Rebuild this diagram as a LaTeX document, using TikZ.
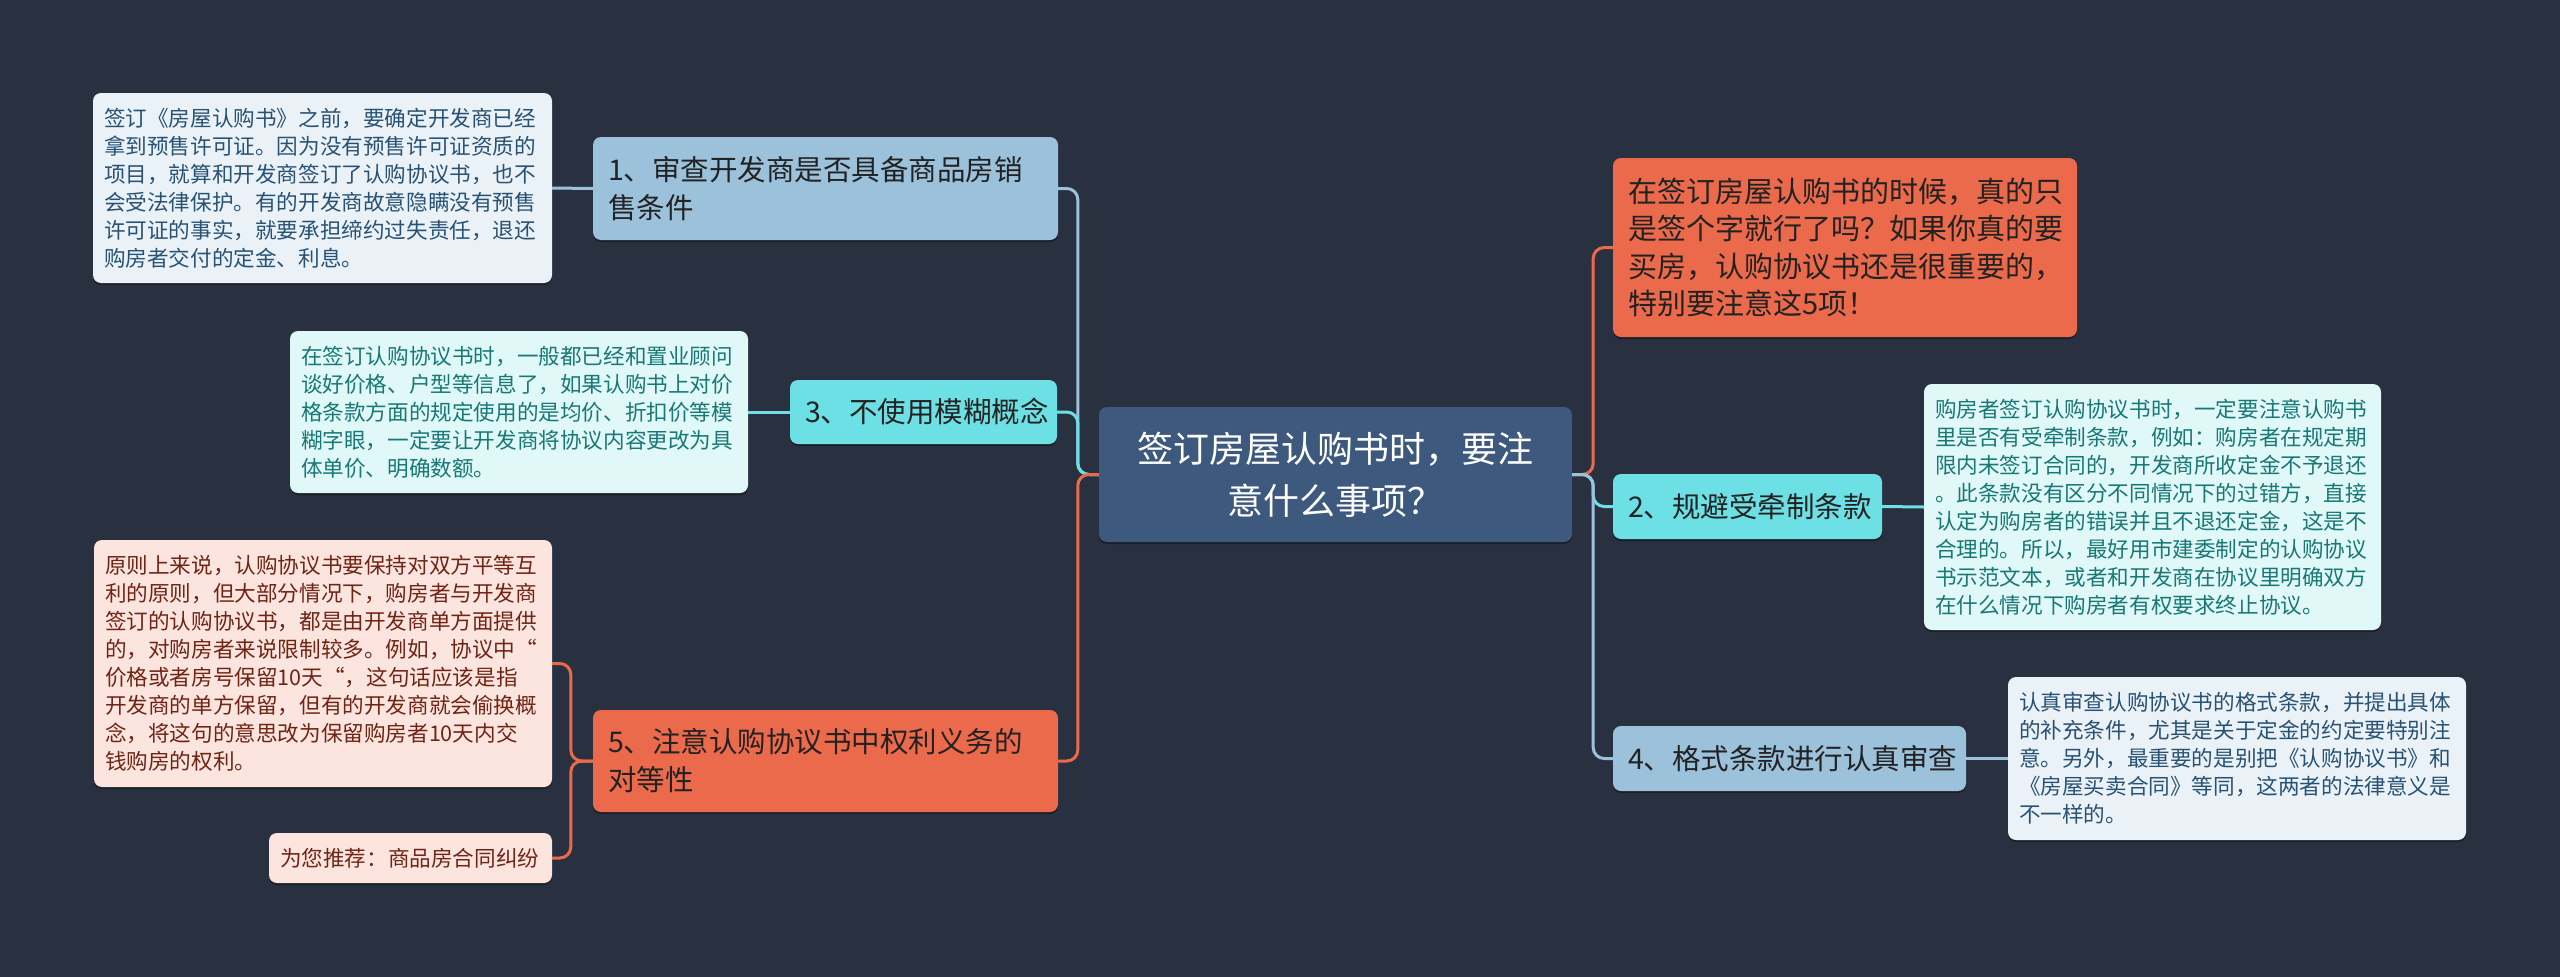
\documentclass[tikz,border=0pt]{standalone}
\usepackage{fontspec}
\setmainfont{Noto Sans CJK SC}
\usetikzlibrary{shadows}
\definecolor{bg}{RGB}{41,49,65}
\definecolor{cfill}{RGB}{61,89,126}
\definecolor{lblue}{RGB}{155,193,219}
\definecolor{cyanc}{RGB}{108,224,228}
\definecolor{orng}{RGB}{236,106,76}
\definecolor{dblue}{RGB}{234,242,248}
\definecolor{dbluet}{RGB}{40,82,116}
\definecolor{dcyan}{RGB}{224,248,248}
\definecolor{dcyant}{RGB}{24,120,118}
\definecolor{dpink}{RGB}{253,229,223}
\definecolor{dpinkt}{RGB}{112,36,20}
\definecolor{ntext}{RGB}{34,34,34}
\tikzset{
  boxbase/.style={rounded corners=8pt, inner ysep=0pt, align=left,
    drop shadow={shadow xshift=0pt, shadow yshift=-2pt, opacity=0.35, fill=black}},
  topic/.style={boxbase, inner xsep=15pt, text=ntext, font=\fontsize{28.5}{38}\selectfont},
  desc/.style={boxbase, inner xsep=11pt, font=\fontsize{21.6}{28}\selectfont},
  conn/.style={line width=3pt, rounded corners=11pt},
}
\begin{document}
\begin{tikzpicture}[x=1pt,y=-1pt]
\fill[bg] (0,0) rectangle (2560,977);
\useasboundingbox (0,0) rectangle (2560,977);

% central node
\node[boxbase, fill=cfill, text=white, align=center, text width=443pt, minimum height=135pt,
  inner xsep=15pt, font=\fontsize{36}{52}\selectfont] (c) at (1335.5,474.5)
  {签订房屋认购书时，要注\\意什么事项？};

% left topics
\node[topic, fill=lblue, text width=435pt, minimum height=103pt] (n1) at (825.5,188.5)
  {1、审查开发商是否具备商品房销\\售条件};
\node[topic, fill=cyanc, text width=237pt, minimum height=64pt] (n3) at (923.5,412)
  {3、不使用模糊概念};
\node[topic, fill=orng, text width=435pt, minimum height=102pt] (n5) at (825.5,761)
  {5、注意认购协议书中权利义务的\\对等性};

% right topics
\node[topic, fill=orng, text width=434pt, minimum height=179pt, font=\fontsize{29}{37.5}\selectfont] (t0) at (1845,247.5)
  {在签订房屋认购书的时候，真的只\\是签个字就行了吗？如果你真的要\\买房，认购协议书还是很重要的，\\特别要注意这5项！};
\node[topic, fill=cyanc, text width=239pt, minimum height=65pt] (n2) at (1747.5,506.5)
  {2、规避受牵制条款};
\node[topic, fill=lblue, text width=323pt, minimum height=65pt] (n4) at (1789.5,758.5)
  {4、格式条款进行认真审查};

% details
\node[desc, fill=dblue, text=dbluet, text width=437pt, minimum height=190pt] (d1) at (322.5,188)
  {签订《房屋认购书》之前，要确定开发商已经\\拿到预售许可证。因为没有预售许可证资质的\\项目，就算和开发商签订了认购协议书，也不\\会受法律保护。有的开发商故意隐瞒没有预售\\许可证的事实，就要承担缔约过失责任，退还\\购房者交付的定金、利息。};
\node[desc, fill=dcyan, text=dcyant, text width=436pt, minimum height=162pt] (d3) at (519,412)
  {在签订认购协议书时，一般都已经和置业顾问\\谈好价格、户型等信息了，如果认购书上对价\\格条款方面的规定使用的是均价、折扣价等模\\糊字眼，一定要让开发商将协议内容更改为具\\体单价、明确数额。};
\node[desc, fill=dpink, text=dpinkt, text width=436pt, minimum height=247pt] (d5) at (323,663.5)
  {原则上来说，认购协议书要保持对双方平等互\\利的原则，但大部分情况下，购房者与开发商\\签订的认购协议书，都是由开发商单方面提供\\的，对购房者来说限制较多。例如，协议中“\\价格或者房号保留10天“，这句话应该是指\\开发商的单方保留，但有的开发商就会偷换概\\念，将这句的意思改为保留购房者10天内交\\钱购房的权利。};
\node[desc, fill=dpink, text=dpinkt, text width=261pt, minimum height=50pt] (rec) at (410.5,858)
  {为您推荐：商品房合同纠纷};
\node[desc, fill=dcyan, text=dcyant, text width=435pt, minimum height=246pt] (d2) at (2152.5,507)
  {购房者签订认购协议书时，一定要注意认购书\\里是否有受牵制条款，例如：购房者在规定期\\限内未签订合同的，开发商所收定金不予退还\\。此条款没有区分不同情况下的过错方，直接\\认定为购房者的错误并且不退还定金，这是不\\合理的。所以，最好用市建委制定的认购协议\\书示范文本，或者和开发商在协议里明确双方\\在什么情况下购房者有权要求终止协议。};
\node[desc, fill=dblue, text=dbluet, text width=436pt, minimum height=163pt] (d4) at (2237,758.5)
  {认真审查认购协议书的格式条款，并提出具体\\的补充条件，尤其是关于定金的约定要特别注\\意。另外，最重要的是别把《认购协议书》和\\《房屋买卖合同》等同，这两者的法律意义是\\不一样的。};

% connectors: center to topics
\draw[conn, lblue] (c.west) -- ++(-21,0) |- (n1.east);
\draw[conn, cyanc] (c.west) -- ++(-21,0) |- (n3.east);
\draw[conn, orng] (c.west) -- ++(-21,0) |- (n5.east);
\draw[conn, orng] (c.east) -- ++(21,0) |- (t0.west);
\draw[conn, cyanc] (c.east) -- ++(21,0) |- (n2.west);
\draw[conn, lblue] (c.east) -- ++(21,0) |- (n4.west);

% topics to details
\draw[conn, lblue] (n1.west) -- (d1.east);
\draw[conn, cyanc] (n3.west) -- (d3.east);
\draw[conn, orng] (n5.west) -- ++(-22,0) |- (d5.east);
\draw[conn, orng] (n5.west) -- ++(-22,0) |- (rec.east);
\draw[conn, cyanc] (n2.east) -- (d2.west);
\draw[conn, lblue] (n4.east) -- (d4.west);
\end{tikzpicture}
\end{document}
